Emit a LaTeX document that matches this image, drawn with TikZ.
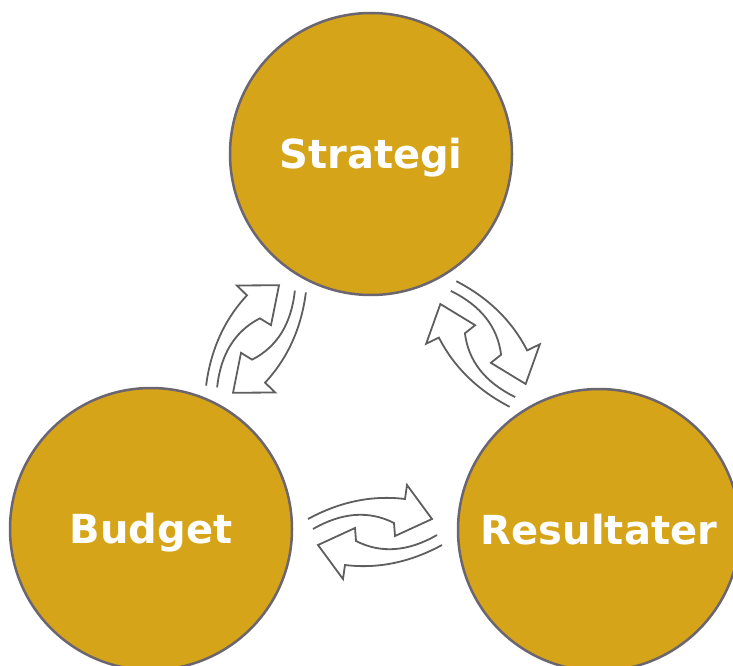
\documentclass[tikz,border=0pt]{standalone}
\usepackage{fontspec}
\setmainfont{DejaVu Sans}
\definecolor{sgold}{HTML}{D5A418}
\definecolor{sedge}{HTML}{6A6570}
\definecolor{sline}{HTML}{5E5E5E}
\tikzset{
  phase/.style = {circle, draw=sedge, line width=2.5pt, fill=sgold,
                  minimum size=282pt, inner sep=0pt, text=white,
                  text height=29pt, text depth=0pt,
                  font=\fontsize{40}{48}\selectfont\bfseries},
  flow/.style  = {draw=sline, line width=1.8pt, line join=miter},
  cyclearrows/.pic = {
    \foreach \r in {0,180}
      \draw[flow,rotate=\r] (-67,-13) .. controls (-35.3,-30.3) and (-3,-37) .. (30,-33)
        -- (32,-47) -- (57,-13) -- (20,4) -- (19,-9)
        .. controls (-6,-21.7) and (-33,-19.7) .. (-62,-3);
  },
}
\begin{document}
\begin{tikzpicture}[x=1pt,y=-1pt]
  \useasboundingbox (0,0) rectangle (733,666);
  \node[phase] (strat) at (371,154) {Strategi};
  \node[phase] (budg) at (151,529) {Budget};
  \node[phase] (res) at (599,530) {Resultater};
  % arrow pairs between the circles
  \coordinate (sb) at (256,339);
  \coordinate (sr) at (483,344);
  \coordinate (br) at (375,532);
  \pic[rotate=54] at (sb) {cyclearrows};
  \pic[rotate=-56] at (sr) {cyclearrows};
  \pic at (br) {cyclearrows};
\end{tikzpicture}
\end{document}
